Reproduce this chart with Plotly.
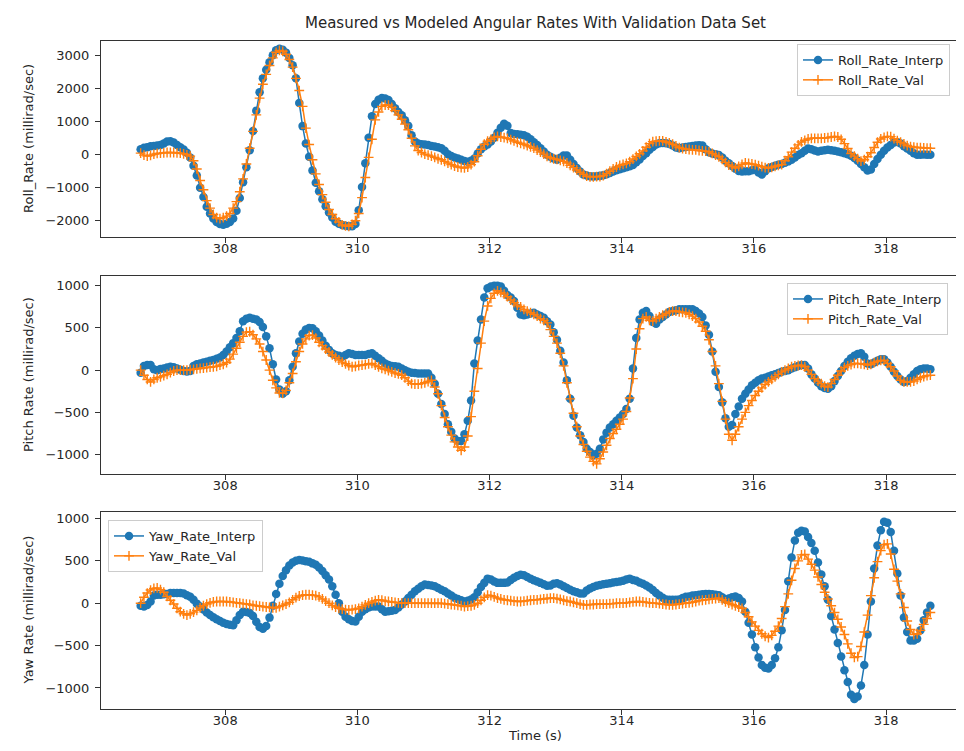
import plotly.graph_objects as go

T0 = 306.72
DT = 0.05
N_SAMPLES = 240
time_s = [round(T0 + DT * i, 2) for i in range(N_SAMPLES)]

roll_interp = [
    150, 190, 210, 240, 250, 260, 280, 320, 380, 390, 350, 280, 210, 140, 40, -100, -350, -650, -1020, -1300,
    -1600, -1800, -1950, -2060, -2120, -2140, -2110, -2060, -1950, -1720, -1330, -850, -400, 120, 700, 1320, 1880, 2300, 2560, 2790,
    3000, 3150, 3200, 3170, 3080, 2920, 2700, 2300, 1550, 850, 320, -80, -500, -870, -1130, -1370, -1580, -1770, -1920, -2050,
    -2110, -2150, -2170, -2190, -2190, -2120, -1700, -1000, -280, 500, 1150, 1520, 1650, 1700, 1690, 1640, 1520, 1390, 1280, 1180,
    1030, 860, 570, 380, 320, 300, 290, 280, 250, 230, 210, 180, 100, 0, -60, -100, -130, -170, -210, -230,
    -200, -130, 20, 150, 230, 290, 380, 500, 650, 800, 920, 860, 640, 610, 600, 590, 570, 530, 450, 360,
    280, 180, 80, -20, -80, -130, -170, -110, -40, -40, -170, -300, -420, -530, -620, -650, -670, -680, -670, -660,
    -640, -610, -570, -530, -490, -460, -430, -400, -370, -330, -250, -160, -60, 30, 130, 220, 290, 330, 340, 330,
    310, 260, 200, 180, 200, 220, 230, 250, 260, 270, 260, 150, 60, 20, 0, -30, -100, -200, -280, -360,
    -440, -510, -530, -520, -520, -490, -470, -560, -620, -520, -430, -390, -350, -320, -300, -260, -220, -170, -100, -30,
    30, 100, 170, 150, 110, 80, 100, 120, 130, 120, 100, 80, 60, 30, 0, -50, -120, -200, -300, -400,
    -500, -470, -300, -150, -20, 100, 200, 280, 350, 370, 320, 240, 170, 100, 30, -20, -20, -10, -20, -20,
]

roll_val = [
    30, -30, -60, -40, 0, 20, 30, 40, 50, 50, 50, 40, 30, 10, -20, -60, -200, -450, -800, -1080,
    -1410, -1640, -1830, -1930, -1960, -1930, -1880, -1800, -1640, -1440, -1140, -750, -300, 180, 690, 1190, 1700, 2120, 2420, 2690,
    2920, 3090, 3150, 3120, 3030, 2870, 2640, 2300, 1930, 1450, 790, 290, -170, -600, -920, -1230, -1460, -1680, -1830, -1960,
    -2060, -2150, -2180, -2190, -2130, -2020, -1800, -1320, -710, -100, 450, 1040, 1280, 1450, 1490, 1490, 1420, 1320, 1190, 1060,
    910, 740, 480, 250, 110, 50, 0, -30, -60, -100, -140, -170, -220, -270, -320, -360, -390, -410, -420, -390,
    -320, -230, -50, 150, 300, 390, 450, 510, 540, 520, 500, 480, 440, 400, 360, 330, 300, 260, 220, 180,
    120, 60, 0, -70, -110, -140, -160, -190, -220, -270, -340, -410, -480, -550, -610, -670, -690, -690, -680, -680,
    -650, -590, -520, -450, -390, -340, -310, -280, -230, -150, -70, 10, 100, 210, 320, 380, 390, 400, 400, 370,
    340, 300, 250, 200, 170, 150, 140, 130, 130, 110, 100, 90, 70, 20, -30, -80, -160, -250, -330, -380,
    -420, -370, -310, -270, -280, -300, -320, -350, -380, -410, -420, -400, -370, -340, -320, -200, -80, 60, 180, 280,
    370, 420, 460, 480, 480, 480, 480, 490, 500, 520, 540, 520, 450, 320, 170, 20, -60, -140, -210, -170,
    -80, 40, 200, 360, 460, 510, 540, 530, 470, 410, 360, 310, 260, 230, 210, 200, 200, 190, 180, 180,
]

pitch_interp = [
    -30, 50, 60, 60, 10, 0, 15, 20, 30, 40, 35, 20, 5, -10, -15, -10, 50, 70, 80, 90,
    100, 110, 120, 135, 150, 180, 220, 270, 320, 380, 460, 580, 610, 620, 610, 600, 570, 510, 400, 260,
    70, -110, -230, -280, -250, -120, 40, 200, 340, 430, 480, 500, 495, 460, 410, 350, 290, 240, 200, 180,
    170, 160, 180, 200, 190, 180, 180, 180, 180, 190, 200, 170, 140, 110, 80, 60, 50, 45, 40, 20,
    0, -20, -30, -35, -40, -40, -40, -40, -90, -160, -280, -400, -520, -640, -730, -810, -840, -840, -760, -600,
    -360, 80, 350, 600, 860, 970, 990, 1000, 1000, 990, 940, 890, 860, 820, 740, 660, 650, 660, 670, 680,
    660, 640, 620, 580, 540, 450, 360, 230, 90, -120, -340, -540, -680, -770, -850, -930, -970, -1010, -990, -930,
    -820, -740, -680, -640, -600, -560, -520, -460, -340, 20, 380, 600, 680, 700, 640, 570, 550, 600, 630, 660,
    690, 700, 710, 720, 720, 720, 720, 720, 700, 670, 630, 530, 420, 220, -20, -200, -380, -570, -670, -650,
    -520, -430, -340, -280, -230, -180, -150, -120, -100, -90, -75, -60, -50, -35, -20, -10, 0, 20, 35, 50,
    60, 60, 20, -50, -100, -150, -190, -210, -220, -190, -130, -70, -10, 50, 100, 140, 170, 190, 200, 160,
    80, 70, 90, 110, 130, 130, 90, 40, -20, -70, -110, -140, -130, -90, -50, -10, 10, 20, 20, 10,
]

pitch_val = [
    0, -60, -110, -140, -110, -90, -80, -65, -50, -30, -10, 0, 0, 0, 0, 5, 10, 15, 20, 25,
    30, 35, 40, 45, 60, 70, 90, 130, 190, 260, 330, 400, 450, 455, 420, 370, 310, 220, 120, 0,
    -120, -210, -270, -275, -240, -150, -40, 100, 220, 310, 370, 410, 415, 380, 330, 290, 250, 215, 180, 150,
    120, 95, 75, 55, 40, 45, 55, 60, 65, 75, 80, 60, 40, 20, 10, -5, -20, -35, -45, -60,
    -90, -130, -160, -165, -165, -160, -150, -135, -120, -200, -280, -420, -560, -670, -770, -850, -910, -950, -910, -780,
    -550, -250, 20, 320, 580, 760, 850, 910, 940, 920, 900, 870, 830, 800, 770, 750, 720, 700, 680, 660,
    640, 610, 590, 560, 480, 400, 320, 200, 50, -150, -340, -510, -670, -780, -880, -960, -1030, -1080, -1110, -1050,
    -970, -890, -810, -750, -700, -640, -580, -490, -330, -100, 250, 490, 610, 630, 590, 580, 610, 630, 650, 670,
    690, 700, 700, 690, 685, 680, 660, 640, 610, 570, 520, 460, 360, 220, 50, -160, -370, -580, -760, -830,
    -760, -670, -580, -500, -420, -360, -300, -250, -210, -170, -140, -110, -80, -50, -20, 0, 20, 40, 50, 55,
    60, 40, 0, -50, -100, -130, -160, -190, -200, -160, -110, -60, -10, 30, 50, 65, 80, 80, 75, 70,
    60, 70, 90, 105, 115, 115, 80, 40, -10, -70, -120, -140, -140, -140, -130, -110, -90, -75, -65, -60,
]

yaw_interp = [
    -30, -40, -20, 20, 90, 100, 100, 105, 110, 120, 120, 120, 120, 115, 95, 75, 40, -5, -40, -75,
    -110, -140, -165, -190, -210, -230, -245, -255, -260, -200, -140, -100, -105, -115, -150, -220, -280, -300, -270, -170,
    -30, 110, 230, 320, 390, 445, 480, 500, 510, 505, 495, 490, 470, 455, 420, 380, 330, 280, 200, 100,
    0, -100, -160, -190, -210, -215, -160, -100, -70, -50, -40, -40, -40, -70, -100, -95, -90, -80, -50, -15,
    20, 60, 100, 140, 170, 200, 220, 215, 210, 200, 180, 160, 140, 115, 90, 65, 50, 35, 20, 30,
    45, 70, 130, 190, 240, 290, 280, 255, 240, 240, 240, 245, 275, 300, 320, 335, 330, 310, 290, 270,
    255, 240, 225, 205, 210, 230, 235, 220, 200, 180, 160, 140, 130, 115, 115, 150, 175, 190, 205, 215,
    225, 230, 235, 245, 250, 255, 265, 280, 290, 275, 265, 245, 230, 210, 185, 155, 120, 90, 65, 45,
    40, 40, 40, 45, 60, 75, 80, 90, 95, 100, 105, 110, 110, 105, 100, 95, 70, 45, 55, 70,
    80, 60, 20, -100, -230, -370, -520, -640, -730, -760, -770, -730, -650, -520, -320, -80, 260, 540, 740, 830,
    855, 845, 780, 710, 620, 480, 340, 200, 40, -150, -310, -470, -630, -790, -930, -1080, -1130, -1100, -970, -730,
    -370, 20, 410, 680, 860, 960, 950, 840, 620, 350, 90, -170, -340, -440, -440, -420, -320, -200, -110, -30,
]

yaw_val = [
    0, 70, 120, 155, 175, 180, 160, 130, 80, 35, -10, -60, -100, -125, -140, -125, -105, -85, -55, -30,
    -10, 5, 15, 20, 20, 20, 20, 15, 10, 5, 0, -5, -10, -15, -25, -30, -35, -40, -45, -50,
    -55, -55, -40, -25, -10, 10, 40, 65, 85, 95, 100, 100, 95, 90, 75, 50, 25, 0, -25, -45,
    -60, -70, -75, -80, -75, -70, -60, -40, -20, 0, 15, 30, 40, 35, 25, 20, 15, 10, 5, 0,
    0, 0, 0, 0, 0, 0, 0, 0, 0, 0, 0, 0, -5, -10, -15, -20, -25, -30, -40, -35,
    -30, -20, 0, 35, 70, 95, 90, 75, 60, 50, 40, 35, 30, 25, 20, 20, 25, 30, 35, 40,
    40, 45, 50, 55, 60, 60, 55, 45, 35, 25, 20, 10, 0, -10, -20, -20, -15, -15, -10, -10,
    -10, -10, -5, -5, 0, 0, 0, 5, 10, 15, 20, 20, 15, 10, 5, 0, 0, -5, -10, -15,
    -20, -20, -15, -10, -5, 0, 5, 10, 20, 30, 35, 40, 45, 50, 55, 60, 40, 15, 0, -15,
    -30, -45, -60, -110, -160, -220, -270, -320, -360, -390, -405, -380, -330, -270, -180, -40, 110, 270, 410, 500,
    570, 575, 520, 460, 390, 310, 220, 130, 50, -30, -110, -190, -280, -370, -480, -590, -640, -630, -510, -340,
    -140, 90, 300, 490, 620, 690, 700, 580, 400, 260, 110, -50, -210, -310, -370, -360, -320, -250, -180, -110,
]

x_tick_vals = [308, 310, 312, 314, 316, 318]
roll_ticks = [-2000, -1000, 0, 1000, 2000, 3000]
pitch_ticks = [-1000, -500, 0, 500, 1000]
yaw_ticks = [-1000, -500, 0, 500, 1000]

BLUE = "#1f77b4"
ORANGE = "#ff7f0e"
FONT = "DejaVu Sans"
W, H = 964, 751

panels = [
    ("x", "y", "legend", roll_interp, roll_val, "Roll_Rate_Interp", "Roll_Rate_Val"),
    ("x2", "y2", "legend2", pitch_interp, pitch_val, "Pitch_Rate_Interp", "Pitch_Rate_Val"),
    ("x3", "y3", "legend3", yaw_interp, yaw_val, "Yaw_Rate_Interp", "Yaw_Rate_Val"),
]

fig = go.Figure()
for xa, ya, lg, interp, val, n1, n2 in panels:
    fig.add_trace(go.Scatter(
        x=time_s[:len(interp)], y=interp, name=n1, mode="lines+markers",
        line=dict(color=BLUE, width=1.5),
        marker=dict(symbol="circle", size=8.5, color=BLUE),
        xaxis=xa, yaxis=ya, legend=lg))
    fig.add_trace(go.Scatter(
        x=time_s[:len(val)], y=val, name=n2, mode="lines+markers",
        line=dict(color=ORANGE, width=1.5),
        marker=dict(symbol="cross-thin", size=7, color=ORANGE,
                    line=dict(color=ORANGE, width=1.4)),
        xaxis=xa, yaxis=ya, legend=lg))

xdom = [93 / W, 962 / W]
ydoms = [(33, 229), (268, 466), (504, 701)]
yranges = [[-2515, 3433], [-1230, 1115], [-1248, 1076]]
ytickvals = [roll_ticks, pitch_ticks, yaw_ticks]

axis_common = dict(
    showline=True, mirror=True, linecolor="#333333", linewidth=1,
    ticks="outside", ticklen=5, tickcolor="#333333", tickwidth=1,
    showgrid=False, zeroline=False,
    tickfont=dict(family=FONT, size=13, color="#262626"),
)

layout = dict(
    width=W, height=H,
    margin=dict(l=0, r=0, t=0, b=0),
    paper_bgcolor="white", plot_bgcolor="white",
    font=dict(family=FONT, color="#262626"),
    title=dict(text="Measured vs Modeled Angular Rates With Validation Data Set",
               x=527.5 / W, xanchor="center", xref="paper",
               y=1 - 15 / H, yanchor="middle", yref="container",
               font=dict(family=FONT, size=15, color="#262626")),
    showlegend=True,
)

for i in range(3):
    sfx = "" if i == 0 else str(i + 1)
    top, bot = ydoms[i]
    layout["xaxis" + sfx] = dict(
        domain=xdom, range=[306.12, 319.27], anchor="y" + sfx,
        tickvals=x_tick_vals, ticklabelstandoff=-6, **axis_common)
    layout["yaxis" + sfx] = dict(
        domain=[1 - bot / H, 1 - top / H], range=yranges[i], anchor="x" + sfx,
        tickvals=ytickvals[i], ticklabelstandoff=3, **axis_common)

layout["xaxis3"]["title"] = dict(text="Time (s)", standoff=4,
                                 font=dict(family=FONT, size=13, color="#262626"))

legend_common = dict(
    bgcolor="rgba(255,255,255,0.8)", bordercolor="#cccccc", borderwidth=1,
    font=dict(family=FONT, size=13, color="#262626"),
    itemwidth=30, tracegroupgap=0,
)
layout["legend"] = dict(x=789 / W, y=1 - 36 / H, xanchor="left", yanchor="top", **legend_common)
layout["legend2"] = dict(x=779 / W, y=1 - 275 / H, xanchor="left", yanchor="top", **legend_common)
layout["legend3"] = dict(x=100 / W, y=1 - 512 / H, xanchor="left", yanchor="top", **legend_common)

ylabels = ["Roll_Rate (millirad/sec)", "Pitch Rate (millirad/sec)", "Yaw Rate (millirad/sec)"]
annotations = []
for i, lab in enumerate(ylabels):
    top, bot = ydoms[i]
    annotations.append(dict(
        text=lab, textangle=-90, showarrow=False,
        x=20 / W, xref="paper", xanchor="center",
        y=1 - (top + bot) / 2 / H, yref="paper", yanchor="middle",
        font=dict(family=FONT, size=13, color="#262626")))
layout["annotations"] = annotations

fig.update_layout(**layout)
fig.write_html("out.html")
